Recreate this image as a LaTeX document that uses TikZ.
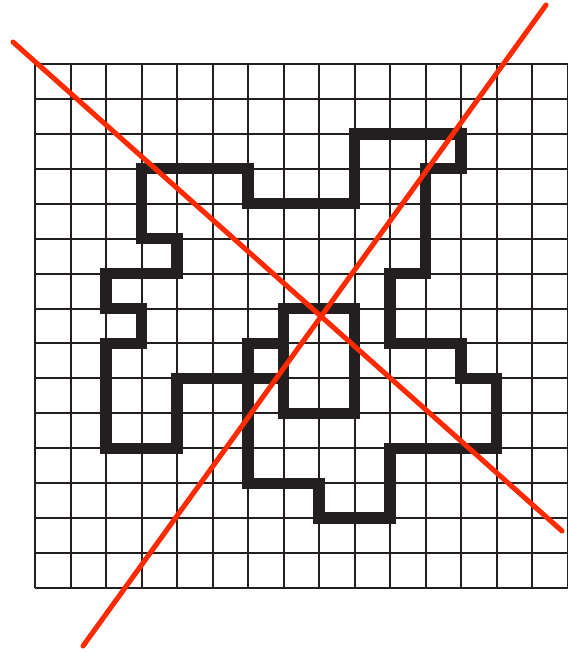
\documentclass[tikz,border=0pt]{standalone}
\usepackage{tikz}
\definecolor{ink}{HTML}{231F20}
\definecolor{cutred}{HTML}{FF2A00}
\begin{document}
\begin{tikzpicture}[x=0.75pt, y=-0.75pt,
  gridline/.style={draw=ink, line width=1.5pt},
  wall/.style={draw=ink, line width=8.5pt, line join=miter, line cap=rect},
  cut/.style={draw=cutred, line width=3.8pt}]
\useasboundingbox (0,0) rectangle (567,652);
\begin{scope}[shift={(35,64)}, x=26.63pt, y=-26.2pt]
\foreach \i in {0,...,15} \draw[gridline] (\i,0) -- (\i,15);
\foreach \j in {0,...,15} \draw[gridline] (0,\j) -- (15,\j);
\draw[wall] (7,9) -- (4,9) -- (4,11) -- (2,11) -- (2,8) -- (3,8) -- (3,7) -- (2,7) -- (2,6) -- (4,6) -- (4,5) -- (3,5) -- (3,3) -- (6,3) -- (6,4) -- (9,4) -- (9,2) -- (12,2) -- (12,3) -- (11,3) -- (11,6) -- (10,6) -- (10,8) -- (12,8) -- (12,9) -- (13,9) -- (13,11) -- (10,11) -- (10,13) -- (8,13) -- (8,12) -- (6,12) -- (6,8) -- (7,8);
\draw[wall] (7,7) rectangle (9,10);
\end{scope}
\coordinate (nw) at (13,42);
\coordinate (se) at (562,531);
\coordinate (sw) at (83,646);
\coordinate (ne) at (546,5);
\draw[cut, line cap=round] (nw) -- (se);
\draw[cut, line cap=round] (sw) -- (ne);
\end{tikzpicture}
\end{document}
